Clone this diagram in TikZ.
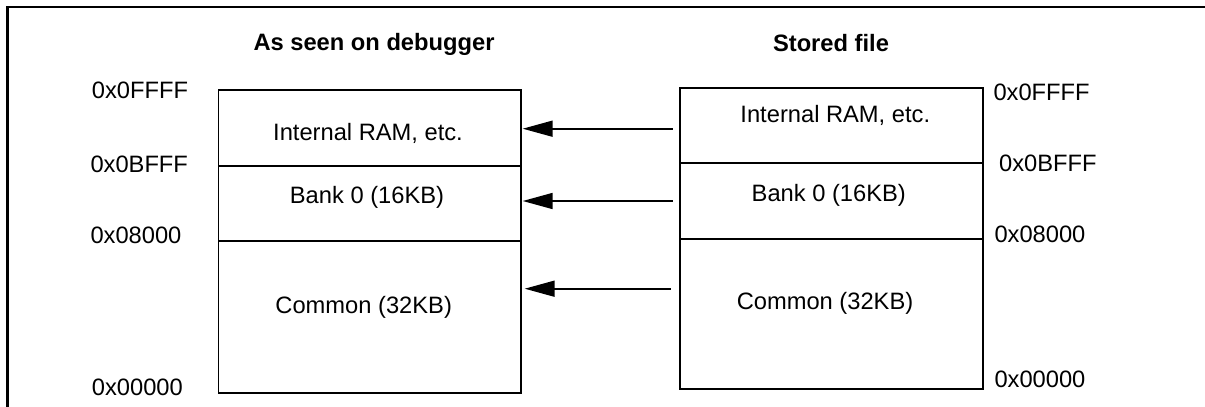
\documentclass[tikz,border=0pt]{standalone}
\usepackage{fontspec}
\setmainfont{Liberation Sans}
\usetikzlibrary{arrows.meta}
\tikzset{
  sect/.style={draw, line width=1.8pt, inner sep=0pt, outer sep=0pt, minimum width=302.5pt},
  txt/.style={anchor=base, inner sep=0pt, font=\fontsize{23.7}{28}\selectfont},
  ttl/.style={txt, font=\fontsize{23.7}{28}\selectfont\bfseries},
  addr/.style={anchor=base west, inner sep=0pt, font=\fontsize{23.7}{28}\selectfont},
  conn/.style={line width=1.7pt, -{Triangle[length=30pt,width=16pt]}},
  frame/.style={line width=2.2pt}
}
\begin{document}
\begin{tikzpicture}[x=1pt,y=-1pt]
\useasboundingbox (0,0) rectangle (1205,407);
% frame (top and left edges only visible)
\draw[frame] (7.5,407) -- (7.5,7) -- (1205,7);
% titles
\node[ttl] (t1) at (374,50) {As seen on debugger};
\node[ttl] (t2) at (831,51) {Stored file};
% left box sections
\node[sect, minimum height=75.7pt] (lint) at (369.75,127.85) {};
\node[sect, minimum height=75pt] (lbank) at (369.75,203.2) {};
\node[sect, minimum height=152pt] (lcom) at (369.75,316.7) {};
% right box sections
\node[sect, minimum width=302.7pt, minimum height=74.7pt] (rint) at (831.35,125.65) {};
\node[sect, minimum width=302.7pt, minimum height=75.7pt] (rbank) at (831.35,200.85) {};
\node[sect, minimum width=302.7pt, minimum height=150.6pt] (rcom) at (831.35,314) {};
% section texts
\node[txt] (lintt) at (368,140) {Internal RAM, etc.};
\node[txt] (lbankt) at (367,203.3) {Bank 0 (16KB)};
\node[txt] (lcomt) at (363.7,313.3) {Common (32KB)};
\node[txt] (rintt) at (835.3,122.7) {Internal RAM, etc.};
\node[txt] (rbankt) at (828.8,201.7) {Bank 0 (16KB)};
\node[txt] (rcomt) at (825,309.3) {Common (32KB)};
% left addresses
\node[addr] (la1) at (91.7,98.7) {0x0FFFF};
\node[addr] (la2) at (90.3,172.3) {0x0BFFF};
\node[addr] (la3) at (90.3,243.3) {0x08000};
\node[addr] (la4) at (91.7,395) {0x00000};
% right addresses
\node[addr] (ra1) at (993.3,100.7) {0x0FFFF};
\node[addr] (ra2) at (999,171.7) {0x0BFFF};
\node[addr] (ra3) at (994.3,242.7) {0x08000};
\node[addr] (ra4) at (994.3,387.7) {0x00000};
% arrow endpoints
\coordinate (s1) at (672.7,128.7);
\coordinate (e1) at (522.7,128.7);
\coordinate (s2) at (672.7,201);
\coordinate (e2) at (522.7,201);
\coordinate (s3) at (670.7,288.7);
\coordinate (e3) at (524.7,288.7);
\draw[conn] (s1) -- (e1);
\draw[conn] (s2) -- (e2);
\draw[conn] (s3) -- (e3);
\end{tikzpicture}
\end{document}
